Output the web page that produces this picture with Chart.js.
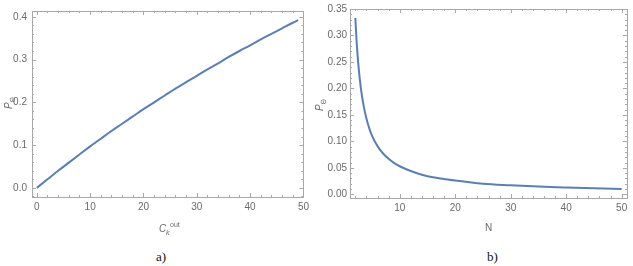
<!DOCTYPE html>
<html>
<head>
<meta charset="utf-8">
<script src="https://cdn.jsdelivr.net/npm/chart.js@4"></script>
<style>
  body { margin: 0; background: #fff; width: 633px; height: 266px; position: relative; overflow: hidden; }
  canvas { position: absolute; top: 0; }
  #chartA { left: 0; }
  #chartB { left: 313px; }
  .cap { position: absolute; top: 249px; font: 13px "Liberation Serif", serif; color: #111; }
</style>
</head>
<body>
<canvas id="chartA" width="313" height="240"></canvas>
<canvas id="chartB" width="320" height="240"></canvas>
<div class="cap" style="left:156px">a)</div>
<div class="cap" style="left:487px">b)</div>
<script>
'use strict'

// ---------------- data ----------------//
// a) P vs C_k^out
var ckOut = [0, 2, 4, 6, 8, 10, 12, 14, 16, 18, 20, 22, 24, 26, 28, 30, 32, 34, 36, 38, 40, 42, 44, 46, 48, 49];
var pA = [0, 0.020, 0.040, 0.059, 0.078, 0.097, 0.115, 0.133, 0.150, 0.167, 0.184, 0.200, 0.216, 0.232, 0.247,
          0.262, 0.277, 0.291, 0.306, 0.320, 0.333, 0.347, 0.360, 0.373, 0.386, 0.392];
var xTicksA = [0, 10, 20, 30, 40, 50];
var yTicksA = [0, 0.1, 0.2, 0.3, 0.4];

// b) P vs N
var nVals = [2, 2.25, 2.5, 3, 3.5, 4, 4.5, 5, 6, 7, 8, 9, 10, 12, 14, 16, 18, 20, 25, 30, 35, 40, 45, 50];
var pB = [0.333, 0.286, 0.250, 0.200, 0.167, 0.143, 0.125, 0.111, 0.091, 0.077, 0.067, 0.059, 0.053,
          0.044, 0.037, 0.032, 0.029, 0.026, 0.020, 0.017, 0.0145, 0.0127, 0.0112, 0.0101];
var xTicksB = [10, 20, 30, 40, 50];
var yTicksB = [0, 0.05, 0.1, 0.15, 0.2, 0.25, 0.3, 0.35];

var lineColor = '#5b7fb5';
var tickColor = '#6a6a6a';
var frameColor = '#a8a8a8';

function pairs(xs, ys) {
  return xs.map(function(v, i) { return {x: v, y: ys[i]}; });
}

//----------- frame with inward ticks on all four sides (Mathematica look) -----------//
var frameTicks = {
  id: 'frameTicks',
  afterDraw: function(chart) {
    var opt = chart.options.plugins.frameTicks;
    var ctx = chart.ctx;
    var a = chart.chartArea;
    var xs = chart.scales.x, ys = chart.scales.y;
    ctx.save();
    ctx.strokeStyle = frameColor;
    ctx.lineWidth = 1;
    ctx.strokeRect(Math.round(a.left) + 0.5, Math.round(a.top) + 0.5,
                   Math.round(a.right - a.left), Math.round(a.bottom - a.top));
    ctx.beginPath();
    for (var i = Math.ceil(xs.min / opt.xMinor); i * opt.xMinor <= xs.max + 1e-9; i++) {
      var v = i * opt.xMinor;
      var r = v / opt.xMajor;
      var len = Math.abs(r - Math.round(r)) < 1e-6 ? 4 : 2;
      var px = Math.round(xs.getPixelForValue(v)) + 0.5;
      ctx.moveTo(px, a.bottom); ctx.lineTo(px, a.bottom - len);
      ctx.moveTo(px, a.top); ctx.lineTo(px, a.top + len);
    }
    for (var j = Math.ceil(ys.min / opt.yMinor); j * opt.yMinor <= ys.max + 1e-9; j++) {
      var w = j * opt.yMinor;
      var q = w / opt.yMajor;
      var l2 = Math.abs(q - Math.round(q)) < 1e-6 ? 4 : 2;
      var py = Math.round(ys.getPixelForValue(w)) + 0.5;
      ctx.moveTo(a.left, py); ctx.lineTo(a.left + l2, py);
      ctx.moveTo(a.right, py); ctx.lineTo(a.right - l2, py);
    }
    ctx.stroke();

    // axis titles with sub/superscripts
    ctx.fillStyle = tickColor;
    ctx.textBaseline = 'alphabetic';
    ctx.save();
    ctx.translate(opt.yTitleX, opt.yTitleY);
    ctx.rotate(-Math.PI / 2);
    ctx.font = 'italic 10px "Liberation Sans"';
    ctx.fillText('P', -6, 0);
    ctx.font = '7px "DejaVu Sans"';
    ctx.fillText('\u0398', 0.5, 3);
    ctx.restore();

    if (opt.xTitle === 'ck') {
      var tx = opt.xTitleX, ty = opt.xTitleY;
      ctx.font = 'italic 10px "Liberation Sans"';
      ctx.fillText('C', tx, ty);
      ctx.font = 'italic 7px "Liberation Sans"';
      ctx.fillText('k', tx + 7, ty + 3);
      ctx.font = '7px "Liberation Sans"';
      ctx.fillText('out', tx + 11, ty - 5);
    } else {
      ctx.font = '10px "Liberation Sans"';
      ctx.fillText(opt.xTitle, opt.xTitleX, opt.xTitleY);
    }
    ctx.restore();
  }
};

function makeChart(id, pts, cfg) {
  var ctx = document.getElementById(id).getContext('2d');
  return new Chart(ctx, {
    type: 'scatter',
    data: {
      datasets: [{
        data: pts,
        showLine: true,
        borderColor: lineColor,
        borderWidth: 2,
        pointRadius: 0,
        cubicInterpolationMode: 'monotone',
        clip: false
      }]
    },
    options: {
      responsive: false,
      animation: false,
      layout: { padding: { top: cfg.padTop, right: cfg.padRight, left: 0, bottom: 0 } },
      plugins: {
        legend: { display: false },
        tooltip: { enabled: false },
        frameTicks: cfg.frame
      },
      scales: {
        x: {
          type: 'linear', min: cfg.xMin, max: cfg.xMax,
          grid: { display: false, drawTicks: false },
          border: { display: false },
          afterBuildTicks: function(s) { s.ticks = cfg.xTicks.map(function(v) { return {value: v}; }); },
          afterFit: function(s) { s.height = cfg.xAxisH; },
          ticks: { padding: 4, color: tickColor, font: { size: 10, family: 'Liberation Sans' },
                   maxRotation: 0, autoSkip: false, callback: function(v) { return String(v); } }
        },
        y: {
          type: 'linear', min: cfg.yMin, max: cfg.yMax,
          grid: { display: false, drawTicks: false },
          border: { display: false },
          afterBuildTicks: function(s) { s.ticks = cfg.yTicks.map(function(v) { return {value: v}; }); },
          afterFit: function(s) { s.width = cfg.yAxisW; },
          ticks: { padding: cfg.yPad, color: tickColor, font: { size: 10, family: 'Liberation Sans' },
                   autoSkip: false, callback: function(v) { return v.toFixed(cfg.dec); } }
        }
      }
    },
    plugins: [frameTicks]
  });
}

//----------------- a) -----------------//
makeChart('chartA', pairs(ckOut, pA), {
  padTop: 7, padRight: 5, xAxisH: 43, yAxisW: 32, yPad: 5,
  xMin: -0.9, xMax: 50, yMin: -0.0213, yMax: 0.4135,
  xTicks: xTicksA, yTicks: yTicksA, dec: 1,
  frame: { xMinor: 2, xMajor: 10, yMinor: 0.02, yMajor: 0.1,
           yTitleX: 12, yTitleY: 103, xTitle: 'ck', xTitleX: 159, xTitleY: 232 }
});

//----------------- b) -----------------//
makeChart('chartB', pairs(nVals, pB), {
  padTop: 6, padRight: 6, xAxisH: 42, yAxisW: 37, yPad: 3,
  xMin: 1.04, xMax: 50.96, yMin: -0.007, yMax: 0.35,
  xTicks: xTicksB, yTicks: yTicksB, dec: 2,
  frame: { xMinor: 2, xMajor: 10, yMinor: 0.01, yMajor: 0.05,
           yTitleX: 10, yTitleY: 105, xTitle: 'N', xTitleX: 172, xTitleY: 231 }
});
</script>
</body>
</html>
